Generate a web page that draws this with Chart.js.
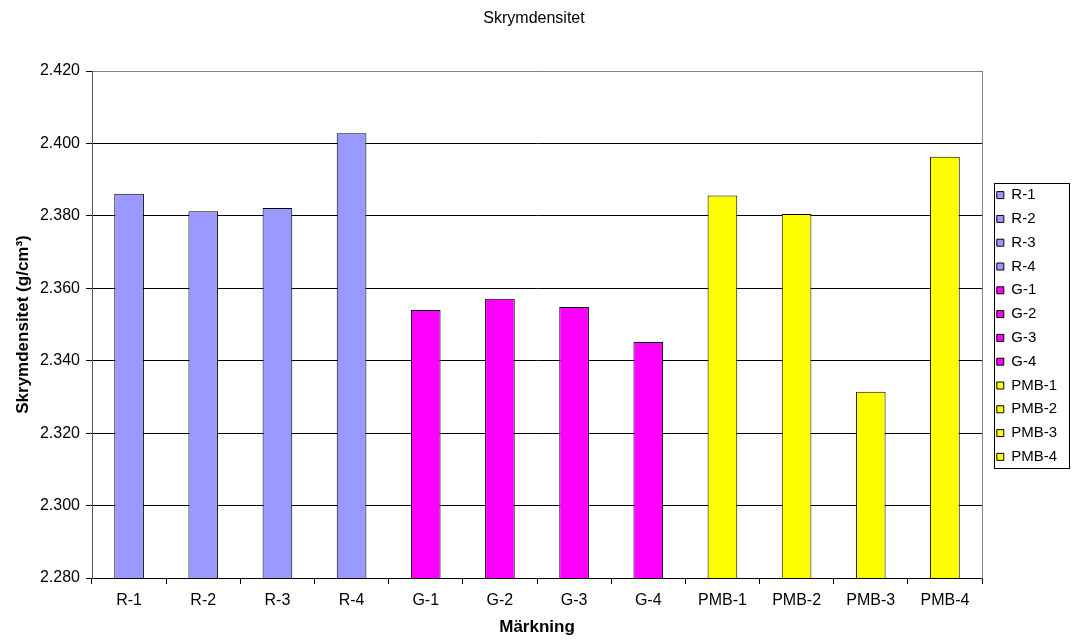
<!DOCTYPE html>
<html>
<head>
<meta charset="utf-8">
<script src="https://cdn.jsdelivr.net/npm/chart.js@4/dist/chart.umd.min.js"></script>
<style>
  html, body { margin: 0; padding: 0; background: #ffffff; }
  #wrap { width: 1074px; height: 644px; }
</style>
</head>
<body>
<div id="wrap"><canvas id="chart" width="1074" height="644"></canvas></div>
<script>
// Bulk density per specimen (g/cm³)
const categories = ['R-1', 'R-2', 'R-3', 'R-4', 'G-1', 'G-2', 'G-3', 'G-4', 'PMB-1', 'PMB-2', 'PMB-3', 'PMB-4'];
const rValues   = [2.3861, 2.3813, 2.3822, 2.4028];
const gValues   = [2.3540, 2.3571, 2.3548, 2.3452];
const pmbValues = [2.3856, 2.3805, 2.3314, 2.3963];
const densities = [...rValues, ...gValues, ...pmbValues];

// Value axis range and tick spacing
const yMin = 2.28;
const yMax = 2.42;
const yStep = 0.02;

// Fill colour per mix type
const groupColors = { R: '#9999FF', G: '#FF00FF', PMB: '#FFFF00' };
const barColors = categories.map(c => groupColors[c.split('-')[0]]);

const FONT = "'Liberation Sans', Arial, sans-serif";

// Frame around the legend items
const legendFrame = {
  id: 'legendFrame',
  afterDraw(chart) {
    const lg = chart.legend;
    const hb = lg && lg.legendHitBoxes;
    if (!hb || !hb.length) return;
    const first = hb[0], last = hb[hb.length - 1];
    const top = Math.round(first.top + first.height / 2 - 12) + 0.5;
    const bottom = Math.round(last.top + last.height / 2 + 10.6) + 0.5;
    const left = Math.round(lg.left + 6) + 0.5;
    const right = Math.round(lg.left + 81) + 0.5;
    const ctx = chart.ctx;
    ctx.save();
    ctx.strokeStyle = '#000000';
    ctx.lineWidth = 1;
    ctx.strokeRect(left, top, right - left, bottom - top);
    ctx.restore();
  }
};

new Chart(document.getElementById('chart'), {
  type: 'bar',
  data: {
    labels: categories,
    datasets: [{
      label: 'Skrymdensitet',
      data: densities,
      backgroundColor: barColors,
      borderColor: '#000000',
      borderWidth: 1,
      categoryPercentage: 1.0,
      barPercentage: 0.4
    }]
  },
  options: {
    responsive: false,
    animation: false,
    devicePixelRatio: 1,
    layout: { padding: { left: 8, right: 14, top: 8, bottom: 0 } },
    scales: {
      x: {
        offset: true,
        grid: {
          display: true,
          drawOnChartArea: false,
          drawTicks: true,
          tickLength: 6,
          color: '#000000',
          offset: true
        },
        border: { display: true, color: '#000000', width: 1 },
        ticks: {
          color: '#000000',
          font: { family: FONT, size: 16 },
          padding: 7,
          maxRotation: 0,
          autoSkip: false
        },
        title: {
          display: true,
          text: 'Märkning',
          color: '#000000',
          font: { family: FONT, size: 17, weight: 'bold' },
          padding: { top: 0, bottom: 6 }
        },
        afterFit(scale) { scale.height = 66; }
      },
      y: {
        min: yMin,
        max: yMax,
        grid: {
          color: ctx => (ctx.index === Math.round((yMax - yMin) / yStep) ? '#808080' : '#000000'),
          tickColor: '#000000',
          tickLength: 6,
          lineWidth: 1
        },
        border: { display: true, color: '#555555', width: 1 },
        ticks: {
          stepSize: yStep,
          color: '#000000',
          font: { family: FONT, size: 16 },
          padding: 6,
          callback: v => Number(v).toFixed(3)
        },
        title: {
          display: true,
          text: 'Skrymdensitet (g/cm³)',
          color: '#000000',
          font: { family: FONT, size: 17, weight: 'bold' },
          padding: { top: 5, bottom: 0 }
        },
        afterFit(scale) { scale.width = 84; }
      },
      frameRight: {
        type: 'linear',
        position: 'right',
        display: true,
        grid: { display: false, drawTicks: false },
        ticks: { display: false },
        border: { display: true, color: '#808080', width: 1 },
        afterFit(scale) { scale.width = 6; }
      }
    },
    plugins: {
      title: {
        display: true,
        text: 'Skrymdensitet',
        color: '#000000',
        font: { family: FONT, size: 16, weight: 'normal' },
        padding: { top: 0.8, bottom: 43 }
      },
      legend: {
        display: true,
        position: 'right',
        align: 'center',
        maxWidth: 72,
        labels: {
          color: '#000000',
          font: { family: FONT, size: 15 },
          boxWidth: 7,
          boxHeight: 7,
          padding: 8.8,
          generateLabels: chart => categories.map((c, i) => ({
            text: c,
            fillStyle: barColors[i],
            strokeStyle: '#000000',
            lineWidth: 1,
            hidden: false,
            index: i,
            datasetIndex: 0
          }))
        }
      },
      tooltip: { enabled: false }
    }
  },
  plugins: [legendFrame]
});
</script>
</body>
</html>
